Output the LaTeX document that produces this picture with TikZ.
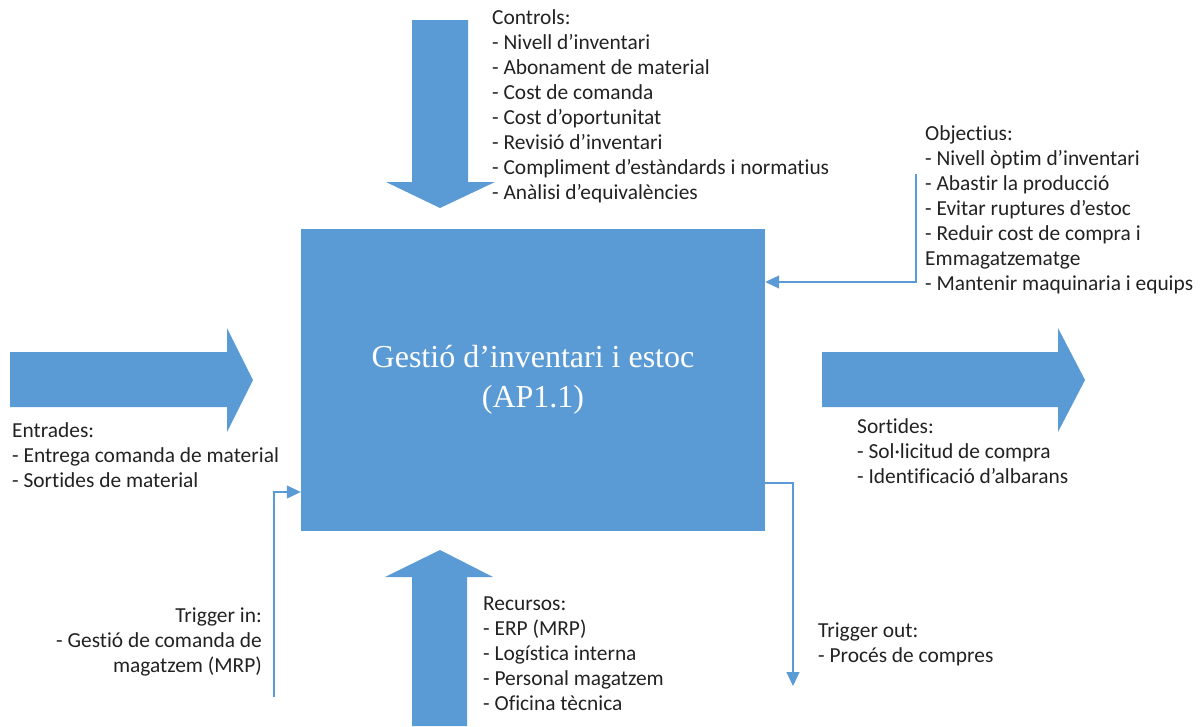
\documentclass[tikz,border=0pt]{standalone}
\usepackage{fontspec}
\setmainfont[Ligatures=NoCommon]{Carlito}
\newfontfamily\serifttl{Liberation Serif}
\usetikzlibrary{arrows.meta}
\definecolor{ablue}{HTML}{5B9BD5}
\definecolor{ink}{HTML}{222222}
% left- and right-aligned multi-line labels whose baseline is the first line
\newcommand\itemlistL[1]{\begin{tabular}[t]{@{}l@{}}#1\end{tabular}}
\newcommand\itemlistR[1]{\begin{tabular}[t]{@{}r@{}}#1\end{tabular}}
\begin{document}
\begin{tikzpicture}[x=1pt,y=-1pt,
  blockarrow/.style={fill=ablue,draw=none},
  conn/.style={draw=ablue,line width=1.2pt,-{Triangle[length=14pt,width=13pt]}},
  lbl/.style={inner sep=0pt,text=ink,font=\fontsize{21.4}{25}\selectfont},
]
\useasboundingbox (0,0) rectangle (1204,726);

% central activity box
\node[fill=ablue, minimum width=464pt, minimum height=302pt, inner sep=0pt,
      align=center, text=white, font=\serifttl\fontsize{32}{40}\selectfont]
      (box) at (533,380) {Gestió d’inventari i estoc\\(AP1.1)};

% wide block arrows: controls (top), inputs (left), outputs (right), resources (bottom)
\fill[blockarrow] (412,20) -- (468,20) -- (468,182) -- (495,182) -- (440,208)
                  -- (386,182) -- (412,182) -- cycle;
\fill[blockarrow] (10,352) -- (227,352) -- (227,328) -- (253,380) -- (227,432)
                  -- (227,407) -- (10,407) -- cycle;
\fill[blockarrow] (822,352) -- (1058,352) -- (1058,328) -- (1085,380) -- (1058,432)
                  -- (1058,407) -- (822,407) -- cycle;
\fill[blockarrow] (412,726) -- (412,577) -- (385,577) -- (440,550) -- (493,577)
                  -- (467,577) -- (467,726) -- cycle;

% thin connectors
\coordinate (objsrc) at (916,174);
\coordinate (objy) at (0,282);
\draw[conn] (objsrc) |- (box.east |- objy);

\coordinate (tinsrc) at (274,697);
\coordinate (tinbend) at (274,492);
\draw[conn] (tinsrc) -- (tinbend) -- (tinbend -| box.west);

\coordinate (toutbend) at (793,483);
\coordinate (toutend) at (793,686);
\draw[conn] (box.east |- toutbend) -- (toutbend) -- (toutend);

% labels
\node[lbl, anchor=base west] (controls) at (492,24) {\itemlistL{Controls:\\
- Nivell d’inventari\\
- Abonament de material\\
- Cost de comanda\\
- Cost d’oportunitat\\
- Revisió d’inventari\\
- Compliment d’estàndards i normatius\\
- Anàlisi d’equivalències}};

\node[lbl, anchor=base west] (objectius) at (925,140) {\itemlistL{Objectius:\\
- Nivell òptim d’inventari\\
- Abastir la producció\\
- Evitar ruptures d’estoc\\
- Reduir cost de compra i\\
Emmagatzematge\\
- Mantenir maquinaria i equips}};

\node[lbl, anchor=base west] (entrades) at (12,437) {\itemlistL{Entrades:\\
- Entrega comanda de material\\
- Sortides de material}};

\node[lbl, anchor=base west] (sortides) at (857,433) {\itemlistL{Sortides:\\
- Sol·licitud de compra\\
- Identificació d’albarans}};

\node[lbl, anchor=base west] (recursos) at (483,610) {\itemlistL{Recursos:\\
- ERP (MRP)\\
- Logística interna\\
- Personal magatzem\\
- Oficina tècnica}};

\node[lbl, anchor=base west] (tout) at (818,637) {\itemlistL{Trigger out:\\
- Procés de compres}};

\node[lbl, anchor=base east] (tin) at (262,622) {\itemlistR{Trigger in:\\
- Gestió de comanda de\\
magatzem (MRP)}};
\end{tikzpicture}
\end{document}
